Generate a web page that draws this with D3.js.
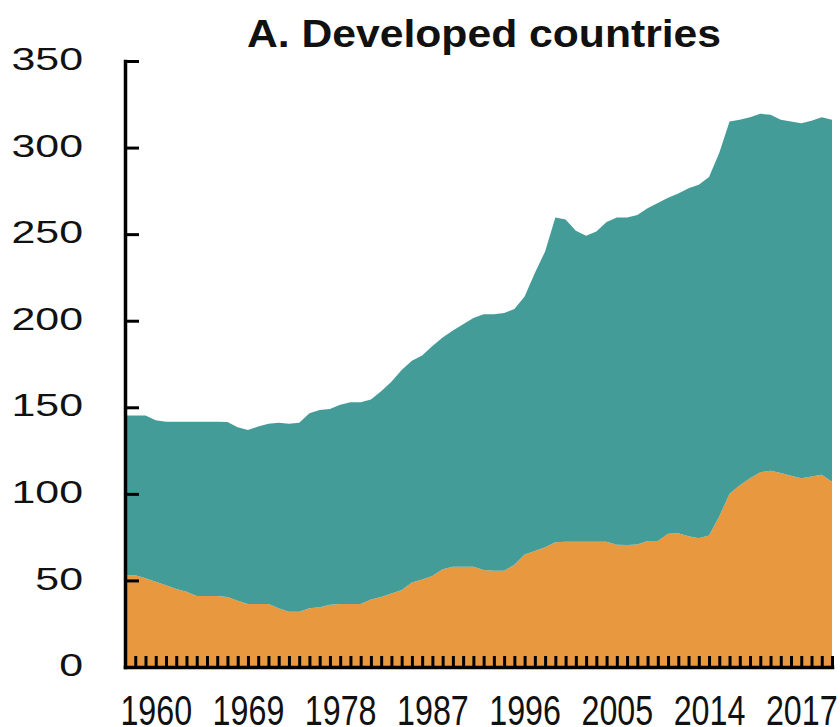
<!DOCTYPE html>
<html>
<head>
<meta charset="utf-8">
<script src="https://cdn.jsdelivr.net/npm/d3@7"></script>
<style>
  body { margin: 0; background: #fff; }
  text { font-family: "Liberation Sans", Arial, sans-serif; fill: #111; }
</style>
</head>
<body>
<script>
const w = 840;
const h = 727;

// one value per period along the x axis
const orangeVals = [
  53.1, 53, 51.2, 49.2, 47.2, 45.1, 43.5, 41, 41, 41,
  40.5, 38.2, 36.4, 36.4, 36.4, 34, 31.9, 31.9, 34, 34.5,
  36, 36.4, 36.4, 36.4, 39, 40.5, 42.5, 44.5, 48.8, 50.6,
  52.5, 56.5, 57.9, 57.9, 57.9, 56, 55.6, 55.6, 59, 65,
  67, 69.1, 72, 72.4, 72.4, 72.4, 72.4, 72.4, 70.6, 70.5,
  70.8, 72.8, 72.8, 77, 77.2, 75.5, 74.3, 76, 87, 100,
  105, 109, 112.5, 113.4, 112, 110.5, 109, 110, 111, 107
];
const tealVals = [
  92.1, 92.2, 94, 93.3, 94.5, 96.6, 98.2, 100.7, 100.7, 100.7,
  101, 100.3, 100.5, 102.5, 104.1, 107.1, 108.6, 109.1, 112.5, 114,
  113, 115, 116.5, 116.5, 115.5, 118.8, 122.3, 127, 128.1, 129.3,
  132.9, 133.8, 136.4, 140.1, 143.6, 147.8, 148.2, 148.9, 147.8, 149,
  160.5, 170.9, 187.6, 186.1, 179.6, 176.6, 179.1, 184.6, 189, 189.1,
  190.2, 192.2, 195.2, 194, 196.3, 201, 204.2, 207, 210, 215,
  211, 208.5, 207, 205.6, 204, 204.5, 205, 205.5, 206.5, 209
];
const tickLabels = ["1960", "1969", "1978", "1987", "1996", "2005", "2014", "2017"];
const tickIndex = [3, 12, 21, 30, 39, 48, 57, 66];
const yTicks = [0, 50, 100, 150, 200, 250, 300, 350];
const colors = ["#e8993f", "#449c99"];

const svg = d3.select("body").append("svg").attr("width", w).attr("height", h);

const data = orangeVals.map((v, i) => ({ i: i, lower: v, upper: tealVals[i] }));
const series = d3.stack().keys(["lower", "upper"])(data);

const xScale = d3.scaleLinear().domain([0, data.length - 1]).range([125, 832]);
const yScale = d3.scaleLinear().domain([0, 350]).range([667, 61]);

const area = d3
  .area()
  .x((d) => xScale(d.data.i))
  .y0((d) => yScale(d[0]))
  .y1((d) => yScale(d[1]));

// stacked areas
svg
  .selectAll("path.layer")
  .data(series)
  .enter()
  .append("path")
  .attr("class", "layer")
  .attr("fill", (d, k) => colors[k])
  .attr("d", area);

// title
svg
  .append("text")
  .attr("transform", "translate(484, 46.5) scale(1.08, 1)")
  .attr("text-anchor", "middle")
  .attr("font-size", 39.5)
  .attr("font-weight", "bold")
  .text("A. Developed countries");

// y-axis
const yAxis = d3.axisLeft(yScale).tickValues(yTicks).tickSize(-14).tickSizeOuter(0);
const yAG = svg.append("g").attr("transform", "translate(125, 0)").call(yAxis);
yAG.select(".domain").attr("stroke", "#000").attr("stroke-width", 3.5).attr("stroke-linecap", "square");
yAG.selectAll(".tick line").attr("stroke", "#000").attr("stroke-width", 3);
yAG
  .selectAll(".tick text")
  .attr("x", null)
  .attr("dy", "0.33em")
  .attr("transform", "translate(-42, -2) scale(1.34, 1)")
  .attr("font-size", 32)
  .attr("fill", "#111");

// x-axis
const xAxis = d3
  .axisBottom(xScale)
  .tickValues(d3.range(data.length))
  .tickSize(-11)
  .tickSizeOuter(0)
  .tickFormat((i) => {
    const k = tickIndex.indexOf(i);
    return k < 0 ? "" : tickLabels[k];
  });
const xAG = svg.append("g").attr("transform", "translate(0, 667)").call(xAxis);
xAG.select(".domain").attr("stroke", "#000").attr("stroke-width", 3.5).attr("stroke-linecap", "square");
xAG.selectAll(".tick line").attr("stroke", "#000").attr("stroke-width", 3);
xAG
  .selectAll(".tick text")
  .attr("y", null)
  .attr("dy", null)
  .attr("transform", "translate(0, 58) scale(0.75, 1)")
  .attr("font-size", 43)
  .attr("fill", "#111");
</script>
</body>
</html>
